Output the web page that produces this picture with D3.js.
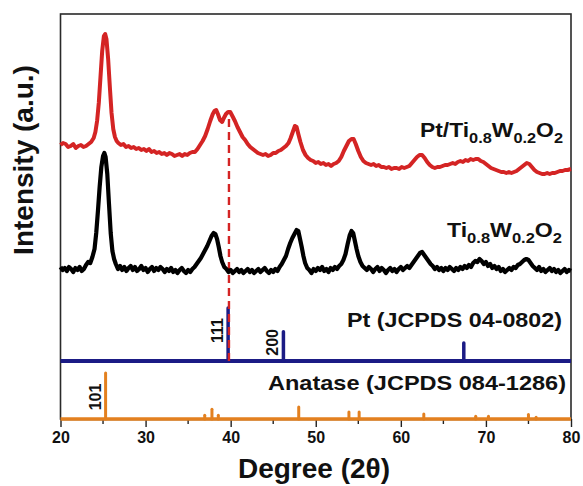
<!DOCTYPE html>
<html>
<head>
<meta charset="utf-8">
<script src="https://cdn.jsdelivr.net/npm/d3@7"></script>
<style>
  body { margin: 0; background: #fff; }
  svg { display: block; font-family: "Liberation Sans", Arial, sans-serif; font-weight: bold; }
</style>
</head>
<body>
<svg id="chart" width="583" height="486"></svg>
<script>
// --- data (2θ in degrees, stacked intensity in a.u.) ---

// Pt/Ti0.8W0.2O2 pattern (red)
const ptTiW = [
  [20.0,274],[20.3,276],[20.6,275],[20.9,272],[21.2,273],[21.5,275],[21.8,271],[22.1,273],[22.4,274],[22.7,272],
  [23.0,273],[23.3,275],[23.6,277],[23.9,281],[24.1,287],[24.3,298],[24.5,316],[24.7,342],[24.9,368],[25.1,383],
  [25.25,385],[25.4,380],[25.6,360],[25.8,332],[26.0,306],[26.2,290],[26.4,282],[26.6,278],[26.8,276],[27.1,274],
  [27.4,275],[27.7,272],[28.0,273],[28.3,271],[28.6,272],[28.9,270],[29.2,271],[29.5,269],[29.8,270],[30.1,268],
  [30.4,270],[30.7,267],[31.0,268],[31.3,266],[31.6,267],[31.9,265],[32.2,266],[32.5,264],[32.8,266],[33.1,265],
  [33.4,263],[33.7,264],[34.0,265],[34.3,263],[34.6,265],[34.9,264],[35.2,266],[35.5,267],[35.8,267],[36.1,270],
  [36.4,274],[36.7,278],[37.0,283],[37.3,290],[37.6,298],[37.9,305],[38.1,308],[38.3,309],[38.5,305],[38.75,299],
  [39.0,297],[39.2,301],[39.45,305],[39.7,307],[39.95,307],[40.2,303],[40.5,298],[40.8,292],[41.1,287],[41.4,282],
  [41.7,279],[42.0,275],[42.3,272],[42.6,270],[42.9,268],[43.2,266],[43.5,265],[43.8,264],[44.1,265],[44.4,263],
  [44.7,264],[45.0,266],[45.3,266],[45.6,268],[45.9,269],[46.2,271],[46.5,273],[46.8,276],[47.05,281],[47.3,287],
  [47.55,293],[47.75,292],[47.95,285],[48.2,277],[48.5,269],[48.8,264],[49.1,261],[49.4,259],[49.7,258],[50.0,256],
  [50.3,257],[50.6,255],[50.9,256],[51.2,254],[51.5,255],[51.8,253],[52.1,255],[52.4,256],[52.7,258],[53.0,262],
  [53.3,268],[53.6,273],[53.9,278],[54.2,280],[54.45,280],[54.7,275],[55.0,268],[55.3,262],[55.6,258],[55.9,256],
  [56.2,255],[56.5,254],[56.8,255],[57.1,253],[57.4,254],[57.7,252],[58.0,252],[58.3,251],[58.6,252],[58.9,250],
  [59.2,251],[59.5,251],[59.8,250],[60.1,252],[60.4,251],[60.7,252],[61.0,253],[61.3,256],[61.6,259],[61.9,262],
  [62.2,264],[62.5,264],[62.8,261],[63.1,257],[63.4,254],[63.7,252],[64.0,251],[64.3,252],[64.6,252],[64.9,253],
  [65.2,254],[65.5,254],[65.8,255],[66.1,256],[66.4,255],[66.7,257],[67.0,258],[67.3,257],[67.6,259],[67.9,258],
  [68.2,260],[68.5,259],[68.8,260],[69.1,260],[69.4,258],[69.7,257],[70.0,255],[70.3,253],[70.6,251],[70.9,250],
  [71.2,249],[71.5,248],[71.8,247],[72.1,247],[72.4,246],[72.7,247],[73.0,246],[73.3,247],[73.6,248],[73.9,250],
  [74.2,252],[74.5,254],[74.8,256],[75.1,255],[75.4,252],[75.7,249],[76.0,247],[76.3,246],[76.6,245],[76.9,245],
  [77.2,246],[77.5,245],[77.8,246],[78.1,246],[78.4,247],[78.7,248],[79.0,248],[79.3,249],[79.6,249],[80.0,250]
];

// Ti0.8W0.2O2 pattern (black)
const tiW = [
  [20.0,152],[20.25,149],[20.5,151],[20.75,148],[21.0,152],[21.25,150],[21.5,147],[21.75,151],[22.0,149],[22.25,152],
  [22.5,148],[22.75,150],[23.0,154],[23.25,157],[23.5,156],[23.75,162],[24.0,170],[24.2,186],[24.4,208],[24.6,232],
  [24.8,252],[25.0,263],[25.15,266],[25.3,262],[25.5,245],[25.7,215],[25.9,186],[26.1,168],[26.3,160],[26.5,155],
  [26.75,150],[27.0,153],[27.25,149],[27.5,152],[27.75,148],[28.0,151],[28.25,153],[28.5,149],[28.75,152],[29.0,148],
  [29.25,150],[29.5,153],[29.75,149],[30.0,151],[30.25,147],[30.5,150],[30.75,152],[31.0,148],[31.25,151],[31.5,149],
  [31.75,152],[32.0,150],[32.25,147],[32.5,150],[32.75,148],[33.0,151],[33.25,147],[33.5,149],[33.75,146],[34.0,149],
  [34.25,151],[34.5,148],[34.75,146],[35.0,149],[35.25,147],[35.5,150],[35.75,152],[36.0,155],[36.25,158],[36.5,161],
  [36.75,165],[37.0,169],[37.25,173],[37.5,178],[37.75,183],[38.0,186],[38.2,185],[38.4,180],[38.6,172],[38.8,163],
  [39.0,157],[39.25,152],[39.5,150],[39.75,147],[40.0,149],[40.25,146],[40.5,148],[40.75,150],[41.0,147],[41.25,149],
  [41.5,146],[41.75,148],[42.0,150],[42.25,147],[42.5,149],[42.75,146],[43.0,148],[43.25,150],[43.5,147],[43.75,149],
  [44.0,151],[44.25,148],[44.5,146],[44.75,149],[45.0,147],[45.25,150],[45.5,148],[45.75,152],[46.0,155],[46.25,159],
  [46.5,163],[46.75,170],[47.0,176],[47.25,181],[47.5,185],[47.75,189],[47.95,188],[48.15,180],[48.35,172],[48.55,163],
  [48.75,156],[49.0,151],[49.25,149],[49.5,146],[49.75,150],[50.0,148],[50.25,151],[50.5,149],[50.75,152],[51.0,148],
  [51.25,150],[51.5,147],[51.75,151],[52.0,149],[52.25,152],[52.5,150],[52.75,153],[53.0,155],[53.25,159],[53.5,165],
  [53.75,175],[54.0,184],[54.2,188],[54.4,186],[54.6,178],[54.8,170],[55.0,163],[55.25,157],[55.5,153],[55.75,151],
  [56.0,149],[56.25,152],[56.5,150],[56.75,147],[57.0,150],[57.25,152],[57.5,148],[57.75,151],[58.0,149],[58.25,146],
  [58.5,149],[58.75,151],[59.0,148],[59.25,150],[59.5,147],[59.75,150],[60.0,152],[60.25,149],[60.5,151],[60.75,153],
  [61.0,151],[61.25,154],[61.5,157],[61.75,160],[62.0,163],[62.25,166],[62.5,167],[62.75,164],[63.0,161],[63.25,158],
  [63.5,155],[63.75,153],[64.0,150],[64.25,152],[64.5,149],[64.75,151],[65.0,148],[65.25,151],[65.5,149],[65.75,152],
  [66.0,150],[66.25,148],[66.5,151],[66.75,149],[67.0,152],[67.25,150],[67.5,153],[67.75,151],[68.0,154],[68.25,152],
  [68.5,156],[68.75,158],[69.0,157],[69.25,160],[69.5,158],[69.75,155],[70.0,157],[70.25,153],[70.5,155],[70.75,151],
  [71.0,153],[71.25,150],[71.5,152],[71.75,148],[72.0,150],[72.25,147],[72.5,149],[72.75,151],[73.0,149],[73.25,152],
  [73.5,151],[73.75,154],[74.0,155],[74.25,157],[74.5,159],[74.75,160],[75.0,159],[75.25,156],[75.5,153],[75.75,151],
  [76.0,149],[76.25,152],[76.5,148],[76.75,150],[77.0,147],[77.25,149],[77.5,151],[77.75,148],[78.0,150],[78.25,147],
  [78.5,149],[78.75,146],[79.0,148],[79.25,150],[79.5,147],[79.75,149],[80.0,148]
];

// Pt reference (JCPDS 04-0802): position, relative intensity, label
const ptPos    = [39.7, 46.2, 67.4];
const ptInt    = [100, 55, 34];
const ptLabels = ["111", "200", ""];

// Anatase reference (JCPDS 084-1286)
const anPos    = [25.3, 36.95, 37.8, 38.55, 48.0, 53.9, 55.1, 62.7, 68.8, 70.3, 75.0, 75.9];
const anInt    = [100, 8, 21, 8, 26, 15, 15, 11, 6, 6, 10, 4];
const anLabels = ["101", "", "", "", "", "", "", "", "", "", "", ""];

// red dashed guide at the Pt(111) position
const guideX = 39.8;

const xTicks = [20, 30, 40, 50, 60, 70, 80];
const xMinorTicks = [25, 35, 45, 55, 65, 75];

// --- layout ---
const W = 583, H = 486;
const margin = { top: 14, right: 12, bottom: 67, left: 60.5 };
const innerW = W - margin.left - margin.right;
const innerH = H - margin.top - margin.bottom;

const svg = d3.select("#chart");
const g = svg.append("g").attr("transform", `translate(${margin.left},${margin.top})`);

const x = d3.scaleLinear().domain([20, 80]).range([0, innerW]);
const y = d3.scaleLinear().domain([0, innerH]).range([innerH, 0]);

// stick-pattern scales (relative intensity -> pixel height inside the panel)
const ptBase = 58, ptSpan = 53;
const anBase = 0, anSpan = 46;
const ptY = d3.scaleLinear().domain([0, 100]).range([y(ptBase), y(ptBase + ptSpan)]);
const anY = d3.scaleLinear().domain([0, 100]).range([y(anBase), y(anBase + anSpan)]);

const colors = { red: "#d42424", black: "#000000", navy: "#1b1b85", orange: "#e3801f" };

// frame
g.append("rect")
  .attr("width", innerW).attr("height", innerH)
  .attr("fill", "none").attr("stroke", "#2a2a2a").attr("stroke-width", 1.6);

// x axis
const xAxis = g.append("g")
  .attr("transform", `translate(0,${innerH})`)
  .call(d3.axisBottom(x).tickValues(xTicks).tickSize(8).tickSizeOuter(0).tickPadding(5));
xAxis.select(".domain").attr("stroke", "#222").attr("stroke-width", 1.6);
xAxis.selectAll(".tick line").attr("stroke", "#222").attr("stroke-width", 1.4);
xAxis.selectAll(".tick text")
  .attr("font-size", 16).attr("font-weight", "bold").attr("fill", "#111")
  .attr("font-family", "Liberation Sans, Arial, sans-serif");

g.append("g").selectAll("line")
  .data(xMinorTicks)
  .join("line")
  .attr("x1", d => x(d)).attr("x2", d => x(d))
  .attr("y1", innerH).attr("y2", innerH + 5)
  .attr("stroke", "#222").attr("stroke-width", 1.4);

// Pt reference pattern
g.append("line")
  .attr("x1", 0).attr("x2", innerW)
  .attr("y1", ptY(0)).attr("y2", ptY(0))
  .attr("stroke", colors.navy).attr("stroke-width", 4);
g.append("g").selectAll("line")
  .data(ptPos.map((p, i) => ({ p, v: ptInt[i] })))
  .join("line")
  .attr("x1", d => x(d.p)).attr("x2", d => x(d.p))
  .attr("y1", ptY(0)).attr("y2", d => ptY(d.v))
  .attr("stroke", colors.navy).attr("stroke-width", 3.5)
  .attr("stroke-linecap", "round");

// Anatase reference pattern
g.append("line")
  .attr("x1", 0).attr("x2", innerW)
  .attr("y1", anY(0)).attr("y2", anY(0))
  .attr("stroke", colors.orange).attr("stroke-width", 3.5);
g.append("g").selectAll("line")
  .data(anPos.map((p, i) => ({ p, v: anInt[i] })))
  .join("line")
  .attr("x1", d => x(d.p)).attr("x2", d => x(d.p))
  .attr("y1", anY(0)).attr("y2", d => anY(d.v))
  .attr("stroke", colors.orange).attr("stroke-width", 3)
  .attr("stroke-linecap", "round");

// hkl labels, rotated, to the left of each stick
function hkl(pos, vals, labels, yAt) {
  g.append("g").selectAll("text")
    .data(pos.map((p, i) => ({ p, v: vals[i], t: labels[i] })).filter(d => d.t))
    .join("text")
    .attr("transform", d => `translate(${x(d.p) - 5},${yAt(d)}) rotate(-90)`)
    .attr("text-anchor", "middle")
    .attr("font-size", 16)
    .attr("fill", "#111")
    .text(d => d.t);
}
hkl(ptPos, ptInt, ptLabels, d => (ptY(0) + ptY(d.v)) / 2 - 4);
hkl(anPos, anInt, anLabels, d => (anY(0) + anY(d.v)) / 2 + 1);

// dashed guide line from the red curve down to the Pt baseline
g.append("line")
  .attr("x1", x(guideX)).attr("x2", x(guideX))
  .attr("y1", y(300)).attr("y2", ptY(0))
  .attr("stroke", colors.red).attr("stroke-width", 2.4)
  .attr("stroke-dasharray", "8,5");

// XRD curves
const line = d3.line().x(d => x(d[0])).y(d => y(d[1])).curve(d3.curveLinear);
g.append("path").datum(tiW)
  .attr("d", line).attr("fill", "none")
  .attr("stroke", colors.black).attr("stroke-width", 4.2)
  .attr("stroke-linejoin", "round");
g.append("path").datum(ptTiW)
  .attr("d", line).attr("fill", "none")
  .attr("stroke", colors.red).attr("stroke-width", 4)
  .attr("stroke-linejoin", "round");

// series labels with subscripts
function formula(parts, xEnd, yBase, len) {
  const t = svg.append("text")
    .attr("x", xEnd).attr("y", yBase)
    .attr("text-anchor", "end")
    .attr("font-size", 21).attr("fill", "#111")
    .attr("textLength", len).attr("lengthAdjust", "spacingAndGlyphs");
  let prevSub = false;
  parts.forEach(([s, sub]) => {
    const ts = t.append("tspan").text(s);
    if (sub) ts.attr("font-size", 15);
    ts.attr("dy", sub && !prevSub ? 6 : (!sub && prevSub ? -6 : 0));
    prevSub = !!sub;
  });
  return t;
}
formula([["Pt/Ti"], ["0.8", 1], ["W"], ["0.2", 1], ["O"], ["2", 1]], 563, 137, 143);
formula([["Ti"], ["0.8", 1], ["W"], ["0.2", 1], ["O"], ["2", 1]], 562, 237, 115);

svg.append("text")
  .attr("x", 562).attr("y", 327).attr("text-anchor", "end")
  .attr("font-size", 21).attr("fill", "#111")
  .attr("textLength", 215).attr("lengthAdjust", "spacingAndGlyphs")
  .text("Pt (JCPDS 04-0802)");
svg.append("text")
  .attr("x", 566).attr("y", 390).attr("text-anchor", "end")
  .attr("font-size", 21).attr("fill", "#111")
  .attr("textLength", 298).attr("lengthAdjust", "spacingAndGlyphs")
  .text("Anatase (JCPDS 084-1286)");

// axis titles
svg.append("text")
  .attr("x", 314).attr("y", 478).attr("text-anchor", "middle")
  .attr("font-size", 28).attr("fill", "#111")
  .text("Degree (2θ)");
svg.append("text")
  .attr("transform", "translate(33,160) rotate(-90)")
  .attr("text-anchor", "middle")
  .attr("font-size", 28).attr("fill", "#111")
  .text("Intensity (a.u.)");
</script>
</body>
</html>
